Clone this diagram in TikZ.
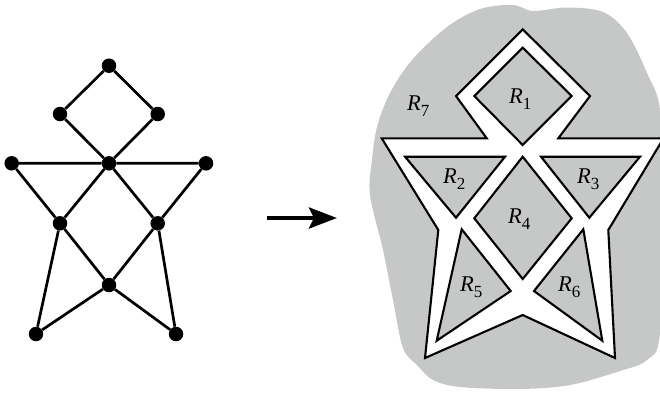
\documentclass[tikz,border=0pt]{standalone}
\usepackage{fontspec}
\setmainfont{Liberation Serif}
\newfontfamily\lblfont{Liberation Serif}
\usetikzlibrary{arrows.meta}
\definecolor{blobgray}{RGB}{198,199,199}
\newcommand\rlab[1]{{\lblfont\itshape R}\raisebox{-6pt}{\lblfont\fontsize{17pt}{17pt}\selectfont #1}}
\begin{document}
\begin{tikzpicture}[x=1pt,y=-1pt,
  vtx/.style={circle,fill=black,inner sep=0pt,minimum size=14.5pt},
  edge/.style={line width=2.7pt},
  band/.style={fill=white,draw=black,line width=2.1pt,line join=miter},
  face/.style={fill=blobgray,draw=black,line width=2.1pt,line join=miter},
  lbl/.style={anchor=base west,inner sep=0pt,font=\lblfont\fontsize{22.5pt}{22.5pt}\selectfont}]
\useasboundingbox (0,0) rectangle (660,392);

% ---- graph ----
\node[vtx] (v1) at (109,65.7) {};
\node[vtx] (v2) at (60,114) {};
\node[vtx] (v3) at (157.7,114) {};
\node[vtx] (v4) at (11.7,163.3) {};
\node[vtx] (v5) at (109,163.3) {};
\node[vtx] (v6) at (206,163.3) {};
\node[vtx] (v7) at (60,223.3) {};
\node[vtx] (v8) at (157.7,223.3) {};
\node[vtx] (v9) at (109,285) {};
\node[vtx] (v10) at (36,334) {};
\node[vtx] (v11) at (176,334) {};
\draw[edge] (v1) -- (v2) (v1) -- (v3) (v2) -- (v5) (v3) -- (v5)
  (v4) -- (v5) (v5) -- (v6) (v4) -- (v7) (v6) -- (v8)
  (v5) -- (v7) (v5) -- (v8) (v7) -- (v9) (v8) -- (v9)
  (v7) -- (v10) (v8) -- (v11) (v10) -- (v9) (v11) -- (v9);

% ---- arrow ----
\coordinate (a1) at (267,218);
\coordinate (a2) at (337,218);
\draw[line width=4.2pt,-{Stealth[length=28pt,width=21pt,inset=5pt]}] (a1) -- (a2);

% ---- blob ----
\fill[blobgray] plot[smooth cycle,tension=0.55] coordinates {
  (513,5) (533,11) (566.7,7.5) (603,12) (627,33) (647,73) (660,110)
  (662,200) (660,333) (647,360) (620,371) (570,385) (520,389) (460,387)
  (433,380) (418,366) (403,348) (393,300) (383,250) (370,195) (372,160)
  (377,127) (390,93) (412,60) (447,27) (480,9)};

% ---- star band ----
\draw[band] (522.7,29.3) -- (590,96) -- (558.3,138.3) -- (663.5,138.3)
  -- (608.3,230) -- (615,358) -- (522.7,315) -- (425,358) -- (438.3,230)
  -- (381.7,138.3) -- (486.7,138.3) -- (456,96) -- cycle;

% ---- faces ----
\draw[face] (522.7,47.7) -- (571.7,96) -- (522.7,145) -- (474.3,96) -- cycle;
\draw[face] (405,156.7) -- (505,156.7) -- (456,217.7) -- cycle;
\draw[face] (541,156.7) -- (640,156.7) -- (589.3,217.7) -- cycle;
\draw[face] (522.7,156.7) -- (571.7,218.3) -- (522.7,279) -- (474.3,218.3) -- cycle;
\draw[face] (461.7,229.3) -- (510.7,291) -- (436.7,340.7) -- cycle;
\draw[face] (583.3,229.3) -- (534,291) -- (602.3,340.7) -- cycle;

% ---- labels ----
\node[lbl] (r1) at (509,103) {\rlab{1}};
\node[lbl] (r2) at (443,183) {\rlab{2}};
\node[lbl] (r3) at (577,183) {\rlab{3}};
\node[lbl] (r4) at (508,223) {\rlab{4}};
\node[lbl] (r5) at (460,291.5) {\rlab{5}};
\node[lbl] (r6) at (558,291.5) {\rlab{6}};
\node[lbl] (r7) at (407,110) {\rlab{7}};
\end{tikzpicture}
\end{document}
